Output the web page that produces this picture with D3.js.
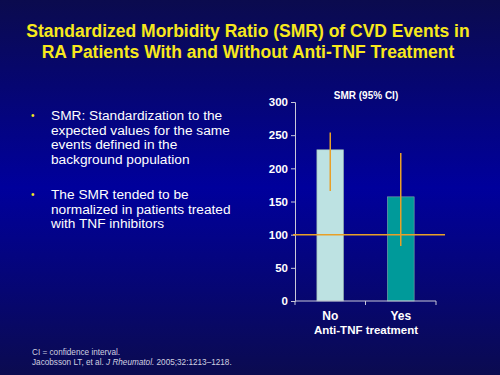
<!DOCTYPE html>
<html lang="en">
    <head>
        <meta charset="utf-8">
        <title>SMR of CVD Events</title>
        <script type="text/javascript" src="https://d3js.org/d3.v7.min.js"></script>
        <style type="text/css">
            body { margin: 0; padding: 0; }
            svg { display: block; font-family: "Liberation Sans", Arial, sans-serif; }
        </style>
    </head>
    <body>
        <script type="text/javascript">

        // chart data
        const categories = ["No", "Yes"];
        const smrValues = [228, 157];
        const ciLow = [166, 83];
        const ciHigh = [254, 223];
        const yTicks = [0, 50, 100, 150, 200, 250, 300];
        const referenceValue = 100;

        const titleLines = ["Standardized Morbidity Ratio (SMR) of CVD Events in",
                            "RA Patients With and Without Anti-TNF Treatment"];
        const bullets = [
            ["SMR: Standardization to the", "expected values for the same", "events defined in the", "background population"],
            ["The SMR tended to be", "normalized in patients treated", "with TNF inhibitors"]
        ];

        const width = 500;
        const height = 375;
        const barColors = ["#bde2e2", "#009a9a"];

        const svg = d3.select("body")
                    .append("svg")
                    .attr("width", width)
                    .attr("height", height);

        // background gradient
        const grad = svg.append("defs")
                        .append("linearGradient")
                        .attr("id", "bg")
                        .attr("x1", 0).attr("y1", 0)
                        .attr("x2", 0).attr("y2", 1);
        grad.append("stop").attr("offset", "0%").attr("stop-color", "#0b0b4e");
        grad.append("stop").attr("offset", "50%").attr("stop-color", "#00009c");
        grad.append("stop").attr("offset", "100%").attr("stop-color", "#0b0b50");

        svg.append("rect")
            .attr("width", width)
            .attr("height", height)
            .attr("fill", "url(#bg)");

        // title
        svg.selectAll(".title")
            .data(titleLines)
            .enter()
            .append("text")
            .attr("x", 248)
            .attr("y", (d, i) => 37 + i * 21)
            .attr("text-anchor", "middle")
            .attr("fill", "#f7e81c")
            .style("font-size", "17.5px")
            .style("font-weight", "bold")
            .text(d => d);

        // bullets
        let lineY = 120;
        bullets.forEach(b => {
            svg.append("text")
                .attr("x", 31)
                .attr("y", lineY - 1)
                .attr("fill", "#f7e81c")
                .style("font-size", "10px")
                .text("•");
            b.forEach(line => {
                svg.append("text")
                    .attr("x", 51)
                    .attr("y", lineY)
                    .attr("fill", "white")
                    .style("font-size", "13.7px")
                    .text(line);
                lineY += 14.7;
            });
            lineY += 20;
        });

        // scales
        const xScale = d3.scaleBand()
                        .domain(categories)
                        .range([295, 436])
                        .padding(0);

        const yScale = d3.scaleLinear()
                        .domain([0, 300])
                        .range([301, 102]);

        const barW = xScale.bandwidth() * 0.38;

        // bars
        svg.selectAll(".bar")
            .data(smrValues)
            .enter()
            .append("rect")
            .attr("x", (d, i) => xScale(categories[i]) + xScale.bandwidth() / 2 - barW / 2)
            .attr("y", d => yScale(d))
            .attr("width", barW)
            .attr("height", d => yScale(0) - yScale(d))
            .attr("fill", (d, i) => barColors[i])
            .attr("stroke", "#8aa6a6")
            .attr("stroke-width", 0.6);

        // left axis
        const leftAxis = d3.axisLeft(yScale).tickValues(yTicks).tickSize(4).tickPadding(3);
        const gy = svg.append("g")
            .attr("transform", "translate(295,0)")
            .call(leftAxis);
        gy.selectAll("path, line").attr("stroke", "#c8c8d8");
        gy.selectAll("text")
            .attr("fill", "white")
            .style("font-size", "11.5px")
            .style("font-weight", "bold")
            .style("font-family", "Liberation Sans, Arial, sans-serif");

        // bottom axis (ticks between categories)
        const gx = svg.append("g")
            .attr("transform", "translate(0," + yScale(0) + ")");
        gx.append("line")
            .attr("x1", 295).attr("x2", 436)
            .attr("stroke", "#c8c8d8");
        gx.selectAll(".xt")
            .data([295, xScale(categories[1]), 436])
            .enter()
            .append("line")
            .attr("x1", d => d).attr("x2", d => d)
            .attr("y1", 0).attr("y2", 4)
            .attr("stroke", "#c8c8d8");
        gx.selectAll(".xl")
            .data(categories)
            .enter()
            .append("text")
            .attr("x", d => xScale(d) + xScale.bandwidth() / 2)
            .attr("y", 19)
            .attr("text-anchor", "middle")
            .attr("fill", "white")
            .style("font-size", "12px")
            .style("font-weight", "bold")
            .text(d => d);

        svg.append("text")
            .attr("x", 366)
            .attr("y", 334)
            .attr("text-anchor", "middle")
            .attr("fill", "white")
            .style("font-size", "11.5px")
            .style("font-weight", "bold")
            .text("Anti-TNF treatment");

        svg.append("text")
            .attr("x", 366)
            .attr("y", 99)
            .attr("text-anchor", "middle")
            .attr("fill", "white")
            .style("font-size", "10px")
            .style("font-weight", "bold")
            .text("SMR (95% CI)");

        // reference line at 100
        svg.append("line")
            .attr("x1", 293).attr("x2", 445)
            .attr("y1", yScale(referenceValue)).attr("y2", yScale(referenceValue))
            .attr("stroke", "#e8a028")
            .attr("stroke-width", 1.5);

        // confidence intervals
        svg.selectAll(".ci")
            .data(categories)
            .enter()
            .append("line")
            .attr("x1", d => xScale(d) + xScale.bandwidth() / 2)
            .attr("x2", d => xScale(d) + xScale.bandwidth() / 2)
            .attr("y1", (d, i) => yScale(ciLow[i]))
            .attr("y2", (d, i) => yScale(ciHigh[i]))
            .attr("stroke", "#e8a028")
            .attr("stroke-width", 1.5);

        // footnote
        svg.append("text")
            .attr("x", 32)
            .attr("y", 355)
            .attr("fill", "#d0d0e0")
            .style("font-size", "8.2px")
            .text("CI = confidence interval.");

        const ref = svg.append("text")
            .attr("x", 32)
            .attr("y", 365)
            .attr("fill", "#d0d0e0")
            .style("font-size", "8.2px");
        ref.append("tspan").text("Jacobsson LT, et al. ");
        ref.append("tspan").style("font-style", "italic").text("J Rheumatol.");
        ref.append("tspan").text(" 2005;32:1213\u20131218.");

        </script>
    </body>
</html>
